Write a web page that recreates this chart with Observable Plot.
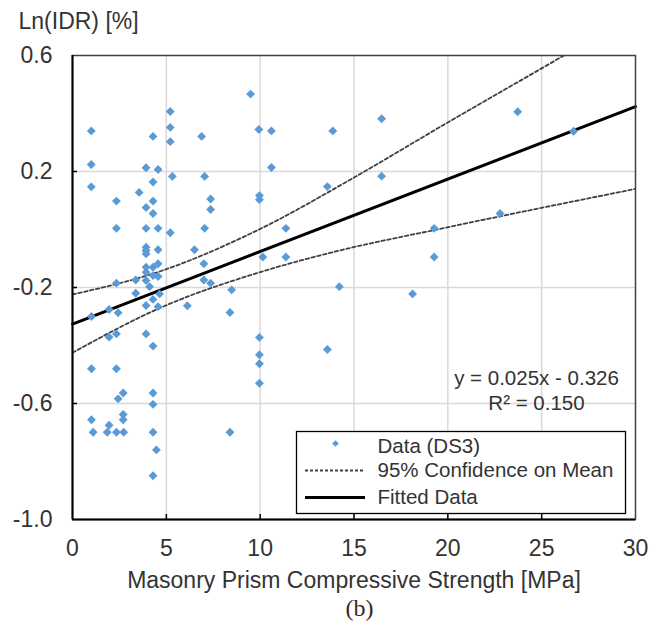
<!DOCTYPE html>
<html>
<head>
<meta charset="utf-8">
<script src="https://cdn.jsdelivr.net/npm/d3@7"></script>
<script src="https://cdn.jsdelivr.net/npm/@observablehq/plot@0.6"></script>
<style>
  html, body { margin: 0; padding: 0; background: #fff; }
  #chart { width: 664px; height: 631px; }
</style>
</head>
<body>
<div id="chart"></div>
<script>
// ---- data ----
const xTicks = [0, 5, 10, 15, 20, 25, 30];
const yTicks = [0.6, 0.2, -0.2, -0.6, -1.0];

const strength = [
  1.0, 1.0, 1.0, 2.34, 2.34, 3.55, 3.92, 4.29, 4.56, 4.29, 4.29, 3.92, 4.29, 3.92, 4.56,
  5.21, 5.21, 5.21, 5.32, 6.88, 7.04, 7.36, 7.36, 7.04, 9.49, 9.93, 9.96, 9.96, 5.21,
  3.92, 3.92, 3.92, 4.56, 6.5, 7.0, 3.92, 4.29, 4.56, 3.92, 4.29, 4.56, 3.37, 3.92, 2.34,
  7.0, 7.36, 4.11, 8.48, 3.37, 4.64, 4.29, 3.92, 4.56, 1.95, 2.43, 1.01, 6.12, 8.39,
  2.34, 1.95, 3.92, 4.29, 1.01, 2.34, 4.29, 2.7, 2.43,
  4.29, 2.7, 2.7, 1.01, 1.95, 1.1, 1.85, 2.34, 2.73, 4.29, 8.39, 4.47, 4.29,
  10.6, 13.87, 16.47, 10.6, 13.58, 16.47, 11.37, 19.27, 10.14, 11.37, 19.27, 14.22, 18.12,
  9.96, 9.96, 9.96, 9.96, 13.58, 23.72, 26.7, 22.78
];
const lnIdr = [
  0.34, 0.224, 0.147, 0.098, 0.004, 0.128, 0.213, 0.321, 0.207, 0.164, 0.098, 0.076, 0.055, 0.004, 0.004,
  0.407, 0.352, 0.303, 0.183, 0.321, 0.183, 0.105, 0.069, 0.004, 0.467, 0.345, 0.117, 0.103, -0.011,
  -0.061, -0.072, -0.084, -0.07, -0.07, -0.118, -0.13, -0.13, -0.118, -0.147, -0.159, -0.162, -0.174, -0.176, -0.185,
  -0.174, -0.185, -0.197, -0.208, -0.22, -0.222, -0.241, -0.262, -0.266, -0.276, -0.287, -0.3, -0.263, -0.286,
  -0.36, -0.371, -0.36, -0.402, -0.48, -0.48, -0.564, -0.564, -0.584,
  -0.603, -0.638, -0.656, -0.656, -0.675, -0.699, -0.699, -0.699, -0.699, -0.699, -0.699, -0.76, -0.849,
  0.34, 0.34, 0.382, 0.214, 0.148, 0.184, 0.004, 0.004, -0.095, -0.095, -0.095, -0.197, -0.222,
  -0.372, -0.432, -0.463, -0.53, -0.414, 0.406, 0.339, 0.055
];

// fitted line end points (y = 0.025x - 0.326)
const fitX = [0, 30];
const fitY = [-0.326, 0.424];

// 95% confidence band
const ciUpperX = [0, 4.68, 10, 15.02, 19.57, 26.1, 30];
const ciUpperY = [-0.224, -0.144, 0.002, 0.18, 0.353, 0.597, 0.745];
const ciLowerX = [0, 4.68, 10, 14.26, 19.57, 30];
const ciLowerY = [-0.425, -0.27, -0.147, -0.072, 0.002, 0.14];

const legendLabels = ["Data (DS3)", "95% Confidence on Mean", "Fitted Data"];
const equationLines = ["y = 0.025x - 0.326", "R\u00b2 = 0.150"];
const xTitle = "Masonry Prism Compressive Strength [MPa]";
const yTitle = "Ln(IDR) [%]";
const panelLabel = "(b)";

// ---- tables built from the arrays ----
const points = strength.map((x, i) => ({x, y: lnIdr[i]}));
const fit = fitX.map((x, i) => ({x, y: fitY[i]}));
const upper = ciUpperX.map((x, i) => ({x, y: ciUpperY[i]}));
const lower = ciLowerX.map((x, i) => ({x, y: ciLowerY[i]}));

const blue = "#5b9bd5";
const textColor = "#333333";
const sans = "'Liberation Sans', Arial, Helvetica, sans-serif";

const chart = Plot.plot({
  width: 664,
  height: 631,
  marginLeft: 72,
  marginRight: 29,
  marginTop: 55,
  marginBottom: 112,
  x: {domain: [0, 30]},
  y: {domain: [-1, 0.6]},
  style: {fontFamily: sans, color: textColor, background: "#fff", overflow: "visible"},
  marks: [
    Plot.gridX(xTicks.slice(1, -1), {stroke: "#d9d9d9", strokeOpacity: 1, strokeWidth: 1.5}),
    Plot.gridY(yTicks.slice(1, -1), {stroke: "#d9d9d9", strokeOpacity: 1, strokeWidth: 1.5}),
    Plot.line(upper, {x: "x", y: "y", curve: "monotone-x", stroke: "#404040", strokeWidth: 1.8, strokeDasharray: "3.5,2.5", clip: true}),
    Plot.line(lower, {x: "x", y: "y", curve: "monotone-x", stroke: "#404040", strokeWidth: 1.8, strokeDasharray: "3.5,2.5", clip: true}),
    Plot.line(fit, {x: "x", y: "y", stroke: "#000", strokeWidth: 3}),
    Plot.dot(points, {x: "x", y: "y", symbol: "diamond2", r: 4, fill: blue, stroke: null}),
    Plot.frame({stroke: "#404040", strokeWidth: 1.5}),
    Plot.ruleX([xTicks[0]], {stroke: "#000", strokeWidth: 2}),
    Plot.ruleY([yTicks[yTicks.length - 1]], {stroke: "#000", strokeWidth: 2}),
    // tick labels
    Plot.axisX(xTicks, {tickSize: 0, tickPadding: 20, fontSize: 23, fill: textColor, label: null, tickFormat: d => String(d)}),
    Plot.axisY(yTicks, {tickSize: 0, tickPadding: 20, fontSize: 23, fill: textColor, label: null, tickFormat: d => d.toFixed(1)}),
    // inward tick marks
    Plot.axisX(xTicks.slice(1, -1), {tickSize: 5, dy: -5, stroke: "#000", strokeWidth: 1.5, tickFormat: () => "", label: null}),
    Plot.axisY(yTicks.slice(1, -1), {tickSize: 5, dx: 5, stroke: "#000", strokeWidth: 1.5, tickFormat: () => "", label: null}),
    // axis titles and panel label
    Plot.text([yTitle], {text: d => d, frameAnchor: "top-left", dx: -54, dy: -34, textAnchor: "start", lineAnchor: "middle", fontSize: 23, fill: textColor}),
    Plot.text([xTitle], {text: d => d, frameAnchor: "bottom", dy: 61, textAnchor: "middle", lineAnchor: "middle", fontSize: 23, fill: textColor}),
    Plot.text([panelLabel], {text: d => d, frameAnchor: "bottom", dx: 5.5, dy: 89, textAnchor: "middle", lineAnchor: "middle", fontSize: 24, fontFamily: "'Liberation Serif', 'DejaVu Serif', serif", fill: "#3a2a20"}),
    // trendline equation
    Plot.text([equationLines[0]], {text: d => d, frameAnchor: "top-left", dx: 464, dy: 323, textAnchor: "middle", lineAnchor: "middle", fontSize: 20.5, fill: textColor}),
    Plot.text([equationLines[1]], {text: d => d, frameAnchor: "top-left", dx: 464, dy: 348, textAnchor: "middle", lineAnchor: "middle", fontSize: 20.5, fill: textColor}),
    // legend
    Plot.frame({insetLeft: 224, insetTop: 376, insetRight: 10, insetBottom: 6, fill: "#fff", stroke: "#000", strokeWidth: 1.3}),
    Plot.dot([legendLabels[0]], {frameAnchor: "top-left", dx: 263, dy: 388, symbol: "diamond2", r: 3, fill: blue, stroke: null}),
    Plot.ruleY([legendLabels[1]], {y: null, dy: 183, insetLeft: 233, insetRight: 270, stroke: "#404040", strokeWidth: 1.8, strokeDasharray: "3,2"}),
    Plot.ruleY([legendLabels[2]], {y: null, dy: 210, insetLeft: 233, insetRight: 270, stroke: "#000", strokeWidth: 3}),
    Plot.text([legendLabels[0]], {text: d => d, frameAnchor: "top-left", dx: 305, dy: 391, textAnchor: "start", lineAnchor: "middle", fontSize: 20.5, fill: textColor}),
    Plot.text([legendLabels[1]], {text: d => d, frameAnchor: "top-left", dx: 305, dy: 415, textAnchor: "start", lineAnchor: "middle", fontSize: 20.5, fill: textColor}),
    Plot.text([legendLabels[2]], {text: d => d, frameAnchor: "top-left", dx: 305, dy: 442, textAnchor: "start", lineAnchor: "middle", fontSize: 20.5, fill: textColor})
  ]
});
document.getElementById("chart").appendChild(chart);
</script>
</body>
</html>
